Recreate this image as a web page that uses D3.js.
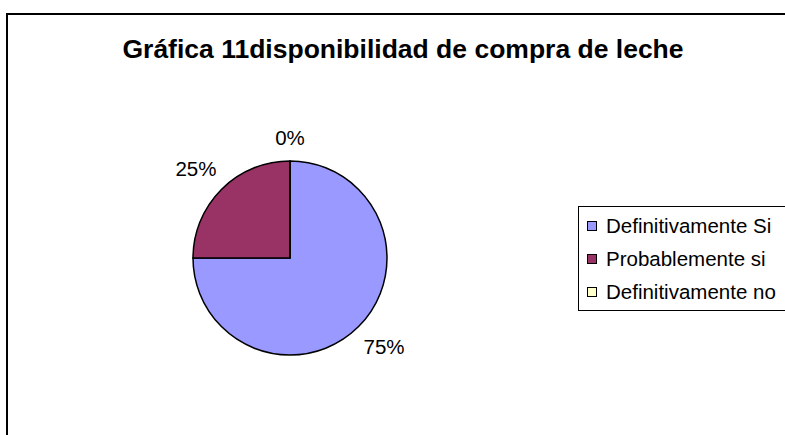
<!DOCTYPE html>
<html>
<head>
<meta charset="utf-8">
<script src="https://cdn.jsdelivr.net/npm/d3@7"></script>
<style>
  body { margin: 0; background: #fff; }
  text { font-family: "Liberation Sans", Arial, sans-serif; fill: #000; }
</style>
</head>
<body>
<div id="chart"></div>
<script>
// datos de la grafica 11
var categories = ["Definitivamente Si", "Probablemente si", "Definitivamente no"];
var values = [75, 25, 0];
var colors = ["#9999FF", "#993366", "#FFFFCC"];
var title = "Gráfica 11disponibilidad de compra de leche";

var width = 785,
	height = 435,
	cx = 290,
	cy = 258,
	radius = 97;

var svg = d3.select("#chart")
	.append("svg")
	.attr("width", width)
	.attr("height", height);

// marco del area del grafico
svg.append("rect")
	.attr("x", 7)
	.attr("y", 14)
	.attr("width", 800)
	.attr("height", 440)
	.attr("fill", "none")
	.attr("stroke", "#000")
	.attr("stroke-width", 2);

svg.append("text")
	.attr("x", 403)
	.attr("y", 58)
	.attr("text-anchor", "middle")
	.style("font-size", "26.5px")
	.style("font-weight", "bold")
	.text(title);

var data = categories.map(function (c, i) { return {name: c, size: values[i], color: colors[i]}; });

var pie = d3.pie()
	.value(function (d) { return d.size; })
	.sort(null);

var arc = d3.arc()
	.innerRadius(0)
	.outerRadius(radius);

var g = svg.append("g")
	.attr("transform", "translate(" + cx + "," + cy + ")");

var arcs = pie(data);

g.selectAll("path")
	.data(arcs)
	.enter()
	.append("path")
	.attr("d", arc)
	.attr("fill", function (d) { return d.data.color; })
	.attr("stroke", "#000")
	.attr("stroke-width", 1.5)
	.attr("stroke-linejoin", "miter");

// etiquetas de porcentaje fuera del pastel
var total = d3.sum(values);
g.selectAll(".lbl")
	.data(arcs)
	.enter()
	.append("text")
	.attr("class", "lbl")
	.attr("text-anchor", "middle")
	.attr("dy", "0.35em")
	.style("font-size", "20.5px")
	.attr("x", function (d) {
		var a = (d.startAngle + d.endAngle) / 2;
		return Math.sin(a) * (radius + 36);
	})
	.attr("y", function (d) {
		var a = (d.startAngle + d.endAngle) / 2;
		var s = Math.sin(a);
		return -Math.cos(a) * (radius + 23 + 12 * s * s);
	})
	.text(function (d) { return Math.round(d.data.size / total * 100) + "%"; });

// leyenda
var legend = svg.append("g");

legend.append("rect")
	.attr("x", 578.5)
	.attr("y", 206.5)
	.attr("width", 220)
	.attr("height", 104)
	.attr("fill", "#fff")
	.attr("stroke", "#000")
	.attr("stroke-width", 1);

var rowY = d3.scalePoint()
	.domain(categories)
	.range([226, 292]);

var item = legend.selectAll(".item")
	.data(data)
	.enter()
	.append("g")
	.attr("class", "item")
	.attr("transform", function (d) { return "translate(0," + rowY(d.name) + ")"; });

item.append("rect")
	.attr("x", 587.5)
	.attr("y", -4.5)
	.attr("width", 9)
	.attr("height", 9)
	.attr("fill", function (d) { return d.color; })
	.attr("stroke", "#000")
	.attr("stroke-width", 1);

item.append("text")
	.attr("x", 606)
	.attr("dy", "0.35em")
	.style("font-size", "20.5px")
	.text(function (d) { return d.name; });
</script>
</body>
</html>
